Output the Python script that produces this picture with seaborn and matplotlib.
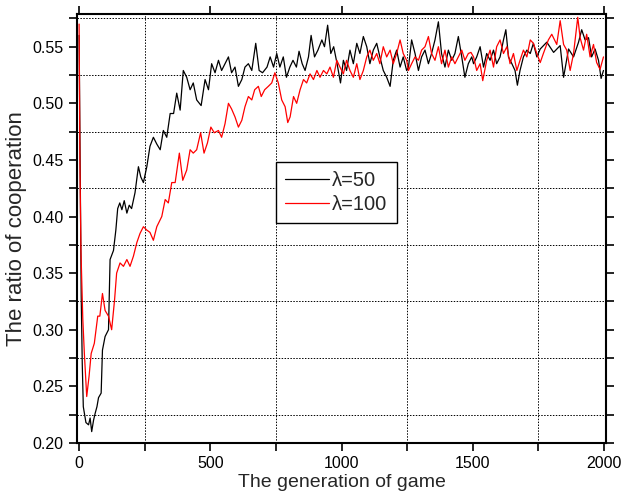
import numpy as np
import pandas as pd
import seaborn as sns
import matplotlib.pyplot as plt
from matplotlib.ticker import MultipleLocator

# lambda = 50 (black)
gen_50 = [0, 4, 8, 12, 16, 26, 36, 42, 48, 55, 61, 68, 74, 84, 89, 99, 112, 118, 131, 140,
          147, 155, 163, 172, 182, 191, 200, 213, 226, 235, 245, 258, 270, 283, 296, 309, 321,
          334, 347, 360, 372, 385, 397, 410, 423, 435, 448, 465, 480, 493, 505, 518, 531, 543,
          556, 569, 581, 594, 607, 620, 632, 645, 658, 673, 686, 699, 716, 728, 741, 753, 765,
          778, 790, 803, 815, 828, 838, 850, 861, 874, 884, 897, 910, 925, 935, 947, 959, 970,
          983, 996, 1007, 1019, 1032, 1045, 1058, 1070, 1083, 1096, 1108, 1121, 1134, 1146,
          1159, 1172, 1185, 1197, 1210, 1223, 1235, 1248, 1255, 1267, 1280, 1293, 1305, 1318,
          1331, 1343, 1356, 1369, 1381, 1394, 1407, 1420, 1432, 1445, 1458, 1470, 1483, 1496,
          1503, 1515, 1528, 1541, 1553, 1566, 1579, 1591, 1604, 1617, 1626, 1636, 1649, 1661,
          1670, 1680, 1693, 1706, 1719, 1731, 1744, 1757, 1782, 1808, 1833, 1846, 1865, 1884,
          1903, 1915, 1928, 1941, 1953, 1966, 1979, 1989, 1998]
coop_50 = [0.560, 0.440, 0.330, 0.270, 0.232, 0.218, 0.216, 0.222, 0.210, 0.220, 0.226, 0.232,
           0.240, 0.244, 0.282, 0.294, 0.300, 0.362, 0.370, 0.388, 0.407, 0.412, 0.406, 0.414,
           0.403, 0.410, 0.407, 0.421, 0.444, 0.435, 0.430, 0.444, 0.462, 0.470, 0.464, 0.459,
           0.476, 0.470, 0.491, 0.491, 0.509, 0.494, 0.529, 0.523, 0.512, 0.518, 0.503, 0.498,
           0.521, 0.512, 0.535, 0.527, 0.538, 0.529, 0.535, 0.541, 0.527, 0.532, 0.515, 0.521,
           0.532, 0.535, 0.529, 0.553, 0.529, 0.527, 0.532, 0.541, 0.532, 0.544, 0.532, 0.541,
           0.523, 0.532, 0.538, 0.532, 0.546, 0.535, 0.529, 0.541, 0.560, 0.541, 0.547, 0.556,
           0.550, 0.569, 0.544, 0.550, 0.535, 0.518, 0.538, 0.529, 0.547, 0.535, 0.553, 0.544,
           0.559, 0.550, 0.535, 0.547, 0.553, 0.541, 0.529, 0.523, 0.515, 0.538, 0.547, 0.532,
           0.541, 0.529, 0.532, 0.556, 0.544, 0.529, 0.541, 0.547, 0.535, 0.544, 0.556, 0.572,
           0.544, 0.532, 0.547, 0.538, 0.544, 0.559, 0.541, 0.523, 0.535, 0.541, 0.535, 0.541,
           0.550, 0.532, 0.544, 0.538, 0.547, 0.535, 0.541, 0.556, 0.565, 0.541, 0.535, 0.529,
           0.516, 0.529, 0.541, 0.547, 0.544, 0.553, 0.541, 0.548, 0.554, 0.545, 0.551, 0.523,
           0.548, 0.541, 0.554, 0.565, 0.556, 0.558, 0.541, 0.548, 0.538, 0.522, 0.529]

# lambda = 100 (red)
gen_100 = [0, 3, 7, 14, 20, 29, 38, 46, 58, 71, 79, 89, 99, 112, 124, 135, 143, 156, 169, 182,
           194, 207, 220, 232, 245, 258, 270, 283, 296, 315, 328, 340, 353, 366, 382, 395, 410,
           423, 435, 448, 463, 476, 489, 502, 515, 531, 543, 556, 569, 581, 594, 607, 620, 632,
           645, 658, 669, 683, 694, 707, 721, 734, 746, 759, 772, 785, 795, 804, 817, 829, 842,
           855, 867, 880, 893, 906, 918, 931, 944, 956, 969, 982, 994, 1007, 1019, 1032, 1045,
           1058, 1070, 1083, 1096, 1108, 1121, 1134, 1146, 1159, 1172, 1185, 1197, 1210, 1223,
           1235, 1248, 1255, 1267, 1280, 1293, 1305, 1318, 1331, 1343, 1356, 1369, 1381, 1394,
           1407, 1420, 1432, 1445, 1458, 1470, 1483, 1493, 1503, 1515, 1528, 1538, 1553, 1566,
           1579, 1591, 1604, 1617, 1630, 1642, 1655, 1668, 1680, 1693, 1706, 1719, 1731, 1744,
           1757, 1769, 1788, 1801, 1820, 1833, 1846, 1858, 1871, 1884, 1900, 1909, 1922, 1934,
           1947, 1960, 1972, 1985, 1998]
coop_100 = [0.570, 0.450, 0.370, 0.310, 0.279, 0.241, 0.259, 0.279, 0.288, 0.312, 0.312, 0.332,
            0.317, 0.312, 0.300, 0.326, 0.350, 0.359, 0.356, 0.362, 0.356, 0.365, 0.377, 0.385,
            0.391, 0.388, 0.386, 0.379, 0.391, 0.400, 0.415, 0.412, 0.430, 0.430, 0.456, 0.432,
            0.441, 0.459, 0.456, 0.459, 0.474, 0.456, 0.465, 0.479, 0.474, 0.476, 0.470, 0.482,
            0.500, 0.495, 0.488, 0.479, 0.485, 0.497, 0.506, 0.503, 0.512, 0.515, 0.506, 0.512,
            0.515, 0.518, 0.527, 0.518, 0.503, 0.497, 0.483, 0.488, 0.506, 0.500, 0.512, 0.521,
            0.518, 0.526, 0.521, 0.529, 0.523, 0.529, 0.526, 0.532, 0.523, 0.538, 0.532, 0.526,
            0.538, 0.529, 0.523, 0.535, 0.521, 0.529, 0.541, 0.547, 0.538, 0.544, 0.535, 0.550,
            0.541, 0.547, 0.535, 0.544, 0.556, 0.544, 0.538, 0.529, 0.535, 0.541, 0.538, 0.547,
            0.550, 0.559, 0.544, 0.538, 0.550, 0.535, 0.547, 0.532, 0.541, 0.535, 0.541, 0.547,
            0.538, 0.544, 0.545, 0.541, 0.529, 0.535, 0.520, 0.538, 0.547, 0.532, 0.550, 0.556,
            0.544, 0.550, 0.535, 0.544, 0.529, 0.538, 0.547, 0.541, 0.556, 0.553, 0.544, 0.536,
            0.544, 0.556, 0.561, 0.552, 0.573, 0.552, 0.547, 0.529, 0.544, 0.576, 0.558, 0.547,
            0.561, 0.541, 0.552, 0.536, 0.530, 0.541]

labels = ['\u03bb=50', '\u03bb=100']
colors = ['black', 'red']

df = pd.concat([
    pd.DataFrame({'gen': gen_50, 'coop': coop_50, 'series': labels[0]}),
    pd.DataFrame({'gen': gen_100, 'coop': coop_100, 'series': labels[1]}),
], ignore_index=True)

sns.set_style('ticks')
plt.rcParams['font.family'] = ['Liberation Sans', 'DejaVu Sans']

fig = plt.figure(figsize=(6.21, 4.96), dpi=100)
ax = fig.add_axes([0.124, 0.107, 0.852, 0.865])

sns.lineplot(data=df, x='gen', y='coop', hue='series', hue_order=labels,
             palette=dict(zip(labels, colors)), estimator=None, sort=False,
             linewidth=0.9, ax=ax)

ax.set_xlim(-8, 2008)
ax.set_ylim(0.20, 0.579)
ax.xaxis.set_major_locator(MultipleLocator(500))
ax.xaxis.set_minor_locator(MultipleLocator(250))
ax.yaxis.set_major_locator(MultipleLocator(0.05))
ax.yaxis.set_minor_locator(MultipleLocator(0.025))
ax.yaxis.set_major_formatter(plt.FormatStrFormatter('%.2f'))

# dotted grid only on the in-between (minor) positions
ax.grid(which='minor', linestyle=(0, (1.5, 1.5)), color='black', linewidth=0.7)
ax.grid(which='major', visible=False)

for s in ax.spines.values():
    s.set_visible(True)
    s.set_linewidth(1.5)
    s.set_color('black')

ax.tick_params(which='both', direction='out', width=1.2, colors='black',
               labelsize=11.5, length=6)
ax.tick_params(axis='x', which='major', top=True)
ax.tick_params(axis='x', which='minor', top=False)
ax.tick_params(axis='y', which='both', right=True, labelright=False)

ax.set_xlabel('The generation of game', fontsize=14, labelpad=2)
ax.set_ylabel('The ratio of cooperation', fontsize=16, labelpad=4)

leg = ax.legend(loc='upper left', bbox_to_anchor=(0.376, 0.655), borderaxespad=0,
                fontsize=14.5, frameon=True, fancybox=False, edgecolor='black',
                framealpha=1, handlelength=2.2, handletextpad=0.15, borderpad=0.45,
                labelspacing=0.25)
leg.get_frame().set_linewidth(1.0)
for line in leg.get_lines():
    line.set_linewidth(0.9)

fig.savefig('out.png', dpi=100)
